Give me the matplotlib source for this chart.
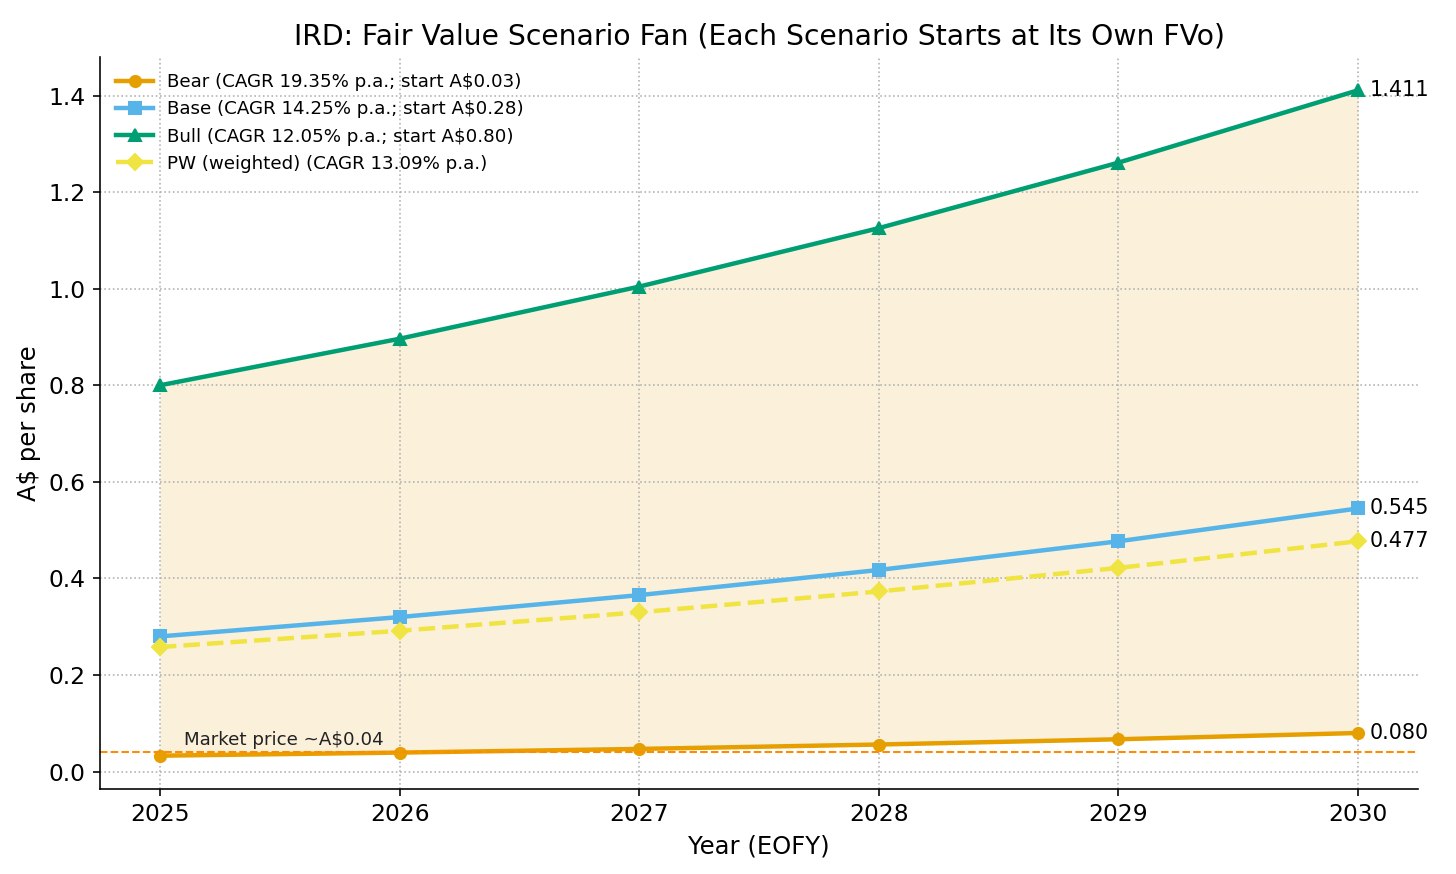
import matplotlib.pyplot as plt

years = [2025, 2026, 2027, 2028, 2029, 2030]
bear = [0.033, 0.0394, 0.047, 0.0561, 0.067, 0.080]
base = [0.280, 0.320, 0.3655, 0.4176, 0.477, 0.545]
bull = [0.800, 0.8964, 1.0044, 1.1255, 1.2611, 1.411]
pw = [0.258, 0.2917, 0.3299, 0.3731, 0.4219, 0.477]
market_price = 0.04

end_labels = ["0.080", "0.545", "1.411", "0.477"]

fig, ax = plt.subplots(figsize=(10, 874 / 145.6), dpi=145.6)

ax.fill_between(years, bear, bull, color='#E69F00', alpha=0.15, linewidth=0)

ax.plot(years, bear, '-o', color='#E69F00', linewidth=2.2, markersize=5.5,
        label='Bear (CAGR 19.35% p.a.; start A$0.03)')
ax.plot(years, base, '-s', color='#56B4E9', linewidth=2.2, markersize=5.5,
        label='Base (CAGR 14.25% p.a.; start A$0.28)')
ax.plot(years, bull, '-^', color='#009E73', linewidth=2.2, markersize=5.5,
        label='Bull (CAGR 12.05% p.a.; start A$0.80)')
ax.plot(years, pw, '--D', color='#F0E442', linewidth=2.2, markersize=5.5,
        label='PW (weighted) (CAGR 13.09% p.a.)')

ax.axhline(market_price, color='#FF8C00', linestyle='--', linewidth=1)
ax.text(years[0] + 0.1, market_price + 0.006, 'Market price ~A$0.04', fontsize=9,
        color='#222222', va='bottom')

for series, lab in zip([bear, base, bull, pw], end_labels):
    ax.annotate(lab, (years[-1], series[-1]), xytext=(5.5, 0), textcoords='offset points',
                va='center', ha='left', fontsize=10.3)

ax.set_title('IRD: Fair Value Scenario Fan (Each Scenario Starts at Its Own FVo)', fontsize=14)
ax.set_xlabel('Year (EOFY)', fontsize=12)
ax.set_ylabel('A$ per share', fontsize=12)
ax.set_xticks(years)
ax.tick_params(labelsize=11.6)
ax.grid(True, linestyle=':', color='#b0b0b0', linewidth=0.8)
ax.spines['top'].set_visible(False)
ax.spines['right'].set_visible(False)
ax.legend(loc='upper left', frameon=False, fontsize=9)

fig.subplots_adjust(left=0.0687, right=0.9739, bottom=0.0973, top=0.9348)
plt.savefig('out.png')
